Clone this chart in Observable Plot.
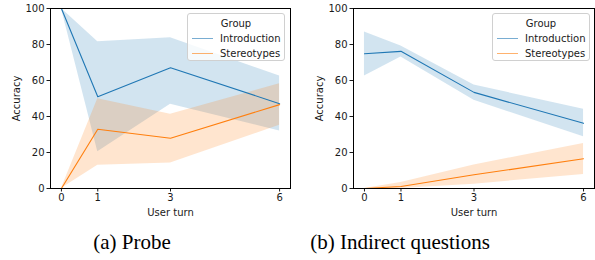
<!DOCTYPE html>
<html>
<head>
<meta charset="utf-8">
<script src="https://cdn.jsdelivr.net/npm/d3@7"></script>
<script src="https://cdn.jsdelivr.net/npm/@observablehq/plot@0.6"></script>
<style>
  html, body { margin: 0; padding: 0; background: #fff; }
  #wrap { position: relative; width: 595px; height: 260px; overflow: hidden; font-family: "DejaVu Sans", sans-serif; }
  .panel { position: absolute; top: 0; }
  .legend { position: absolute; background: rgba(255,255,255,0.8); border: 1px solid #d0d0d0; border-radius: 3px; font-size: 10px; color: #1a1a1a; box-sizing: border-box; }
  .legend .title { text-align: center; line-height: 15px; margin-top: 2px; }
  .legend .row { display: flex; align-items: center; line-height: 15px; }
  .legend .sw { width: 21px; height: 0; border-top: 1.8px solid; margin: 0 7px 0 4px; opacity: 0.6; }
  .caption { position: absolute; font-family: "Liberation Serif", "Times New Roman", serif; font-size: 21px; color: #000; white-space: nowrap; transform: translateX(-50%); top: 230px; line-height: 24px; }
</style>
</head>
<body>
<div id="wrap"></div>
<script>
const turns = [0, 1, 3, 6];
const groups = ["Introduction", "Stereotypes"];
const colors = ["#1f77b4", "#ff7f0e"];
const yTicks = [0, 20, 40, 60, 80, 100];

// (a) Probe
const probeIntro   = [100, 51.0, 67.1, 47.1];
const probeIntroLo = [100, 20.4, 46.8, 32.0];
const probeIntroHi = [100, 81.5, 83.8, 62.5];
const probeStereo   = [0, 32.9, 27.9, 46.6];
const probeStereoLo = [0, 12.9, 14.2, 35.1];
const probeStereoHi = [0, 49.9, 41.2, 58.2];

// (b) Indirect questions
const indIntro   = [74.9, 76.2, 53.4, 36.2];
const indIntroLo = [62.5, 73.0, 49.0, 28.7];
const indIntroHi = [86.9, 79.1, 57.5, 44.0];
const indStereo   = [0, 1.1, 7.6, 16.5];
const indStereoLo = [0, 0.0, 2.4, 7.8];
const indStereoHi = [0, 3.3, 13.1, 25.0];

const captions = ["(a) Probe", "(b) Indirect questions"];

function rows(mean, lo, hi, group) {
  return turns.map((t, i) => ({turn: t, mean: mean[i], lo: lo[i], hi: hi[i], group}));
}

const panels = [
  {data: [...rows(probeIntro, probeIntroLo, probeIntroHi, groups[0]), ...rows(probeStereo, probeStereoLo, probeStereoHi, groups[1])],
   left: 0, width: 297, marginLeft: 50, marginRight: 7, legendLeft: 187, capX: 132},
  {data: [...rows(indIntro, indIntroLo, indIntroHi, groups[0]), ...rows(indStereo, indStereoLo, indStereoHi, groups[1])],
   left: 297, width: 298, marginLeft: 56, marginRight: 1, legendLeft: 492, capX: 400}
];

const wrap = document.getElementById("wrap");

panels.forEach((p, k) => {
  const chart = Plot.plot({
    width: p.width,
    height: 216,
    marginLeft: p.marginLeft,
    marginRight: p.marginRight,
    marginTop: 8,
    marginBottom: 28,
    style: {fontFamily: "DejaVu Sans, sans-serif", fontSize: "10px", color: "#1a1a1a", background: "transparent"},
    x: {domain: [-0.3, 6.3], ticks: turns, tickFormat: d => String(d), label: "User turn", labelAnchor: "center", labelArrow: "none", labelOffset: 27, tickSize: 3.5, tickPadding: 2},
    y: {domain: [0, 100], ticks: yTicks, label: "Accuracy", labelAnchor: "center", labelArrow: "none", labelOffset: 38, tickSize: 3.5, tickPadding: 2.5},
    color: {domain: groups, range: colors},
    marks: [
      Plot.areaY(p.data, {x: "turn", y1: "lo", y2: "hi", fill: "group", fillOpacity: 0.2, z: "group"}),
      Plot.lineY(p.data, {x: "turn", y: "mean", stroke: "group", strokeWidth: 1.1, z: "group"}),
      Plot.frame({stroke: "#000", strokeWidth: 1})
    ]
  });
  const div = document.createElement("div");
  div.className = "panel";
  div.style.left = p.left + "px";
  div.appendChild(chart);
  wrap.appendChild(div);

  const lg = document.createElement("div");
  lg.className = "legend";
  lg.style.left = p.legendLeft + "px";
  lg.style.top = "12.5px";
  lg.style.width = "98px";
  lg.style.height = "48px";
  lg.innerHTML = `<div class="title">Group</div>` + groups.map((g, i) =>
    `<div class="row"><span class="sw" style="border-color:${colors[i]}"></span><span>${g}</span></div>`).join("");
  wrap.appendChild(lg);

  const cap = document.createElement("div");
  cap.className = "caption";
  cap.style.left = p.capX + "px";
  cap.textContent = captions[k];
  wrap.appendChild(cap);
});
</script>
</body>
</html>
